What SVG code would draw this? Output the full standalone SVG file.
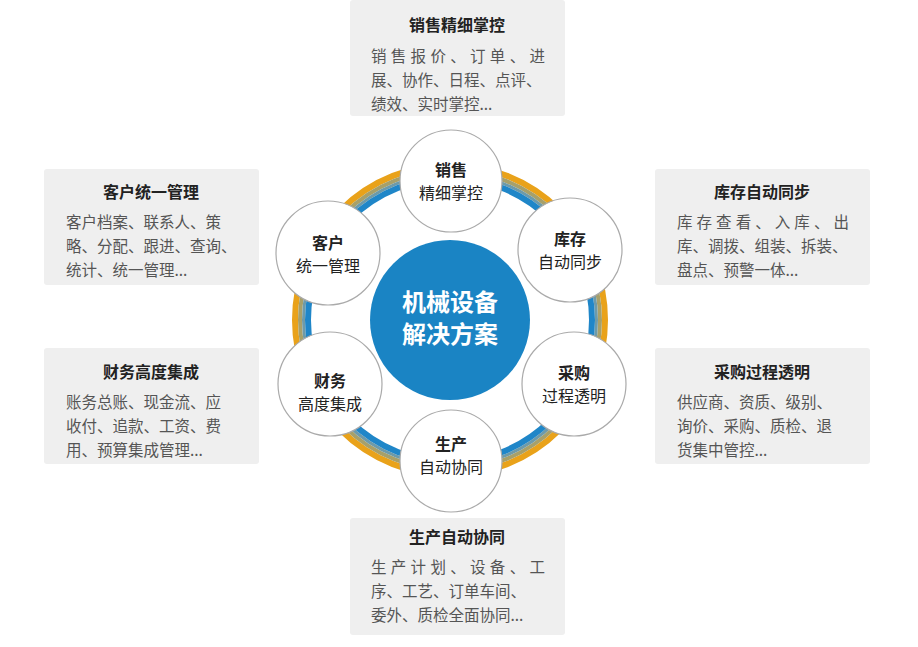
<svg xmlns="http://www.w3.org/2000/svg" width="918" height="647" viewBox="0 0 918 647">
<style>
.box{fill:#efefef}
.t{font-family:"Noto Sans CJK SC",sans-serif;font-size:16px;font-weight:bold;fill:#222;text-anchor:middle}
.b{font-family:"Noto Sans CJK SC",sans-serif;font-size:15.5px;fill:#555}
.c{fill:#fff;stroke:#aaa;stroke-width:1.2}
.n1{font-family:"Noto Sans CJK SC",sans-serif;font-size:16px;font-weight:bold;fill:#222;text-anchor:middle}
.n2{font-family:"Noto Sans CJK SC",sans-serif;font-size:16px;fill:#222;text-anchor:middle}
</style>
<rect width="918" height="647" fill="#fff"/>
<g id="ring">
<circle cx="450" cy="320" r="155" fill="none" stroke="#e9a21a" stroke-width="6"/>
<circle cx="450" cy="320" r="150" fill="none" stroke="#a7a06a" stroke-width="4"/>
<circle cx="450" cy="320" r="146.5" fill="none" stroke="#6e9aa8" stroke-width="3"/>
<circle cx="450" cy="320" r="142" fill="none" stroke="#1f86c8" stroke-width="6"/>
</g>
<g id="center"><circle cx="450" cy="320" r="80" fill="#1a84c4"/>
<text x="450" y="311" text-anchor="middle" font-family="Noto Sans CJK SC,sans-serif" font-size="24" font-weight="bold" fill="#fff">机械设备</text>
<text x="450" y="343" text-anchor="middle" font-family="Noto Sans CJK SC,sans-serif" font-size="24" font-weight="bold" fill="#fff">解决方案</text></g>
<g id="n-sales"><circle class="c" cx="451" cy="181" r="51"/><text class="n1" x="451" y="176">销售</text><text class="n2" x="451" y="199">精细掌控</text></g>
<g id="n-inv"><circle class="c" cx="570" cy="250" r="52"/><text class="n1" x="570" y="245">库存</text><text class="n2" x="570" y="268">自动同步</text></g>
<g id="n-pur"><circle class="c" cx="574" cy="384" r="52"/><text class="n1" x="574" y="379">采购</text><text class="n2" x="574" y="402">过程透明</text></g>
<g id="n-prod"><circle class="c" cx="451" cy="461" r="51"/><text class="n1" x="451" y="450">生产</text><text class="n2" x="451" y="473">自动协同</text></g>
<g id="n-fin"><circle class="c" cx="330" cy="384" r="52"/><text class="n1" x="330" y="387">财务</text><text class="n2" x="330" y="410">高度集成</text></g>
<g id="n-cus"><circle class="c" cx="328" cy="253" r="52"/><text class="n1" x="328" y="249">客户</text><text class="n2" x="328" y="272">统一管理</text></g>
<g id="b-sales"><rect class="box" x="350" y="0" width="215" height="116" rx="3"/><text class="t" x="457" y="31">销售精细掌控</text>
<text class="b" x="371" y="62" textLength="174">销售报价、订单、进</text><text class="b" x="371" y="86">展、协作、日程、点评、</text><text class="b" x="371" y="110">绩效、实时掌控...</text></g>
<g id="b-cus"><rect class="box" x="44" y="169" width="215" height="116" rx="3"/><text class="t" x="151" y="198">客户统一管理</text>
<text class="b" x="66" y="228">客户档案、联系人、策</text><text class="b" x="66" y="252">略、分配、跟进、查询、</text><text class="b" x="66" y="276">统计、统一管理...</text></g>
<g id="b-inv"><rect class="box" x="655" y="169" width="215" height="116" rx="3"/><text class="t" x="762" y="198">库存自动同步</text>
<text class="b" x="677" y="228" textLength="172">库存查看、入库、出</text><text class="b" x="677" y="252">库、调拨、组装、拆装、</text><text class="b" x="677" y="276">盘点、预警一体...</text></g>
<g id="b-fin"><rect class="box" x="44" y="348" width="215" height="116" rx="3"/><text class="t" x="151" y="378">财务高度集成</text>
<text class="b" x="66" y="408">账务总账、现金流、应</text><text class="b" x="66" y="432">收付、追款、工资、费</text><text class="b" x="66" y="456">用、预算集成管理...</text></g>
<g id="b-pur"><rect class="box" x="655" y="348" width="215" height="116" rx="3"/><text class="t" x="762" y="378">采购过程透明</text>
<text class="b" x="677" y="408">供应商、资质、级别、</text><text class="b" x="677" y="432">询价、采购、质检、退</text><text class="b" x="677" y="456">货集中管控...</text></g>
<g id="b-prod"><rect class="box" x="350" y="518" width="215" height="117" rx="3"/><text class="t" x="457" y="543">生产自动协同</text>
<text class="b" x="371" y="573" textLength="174">生产计划、设备、工</text><text class="b" x="371" y="597">序、工艺、订单车间、</text><text class="b" x="371" y="621">委外、质检全面协同...</text></g>
<g id="connectors"/>
</svg>
